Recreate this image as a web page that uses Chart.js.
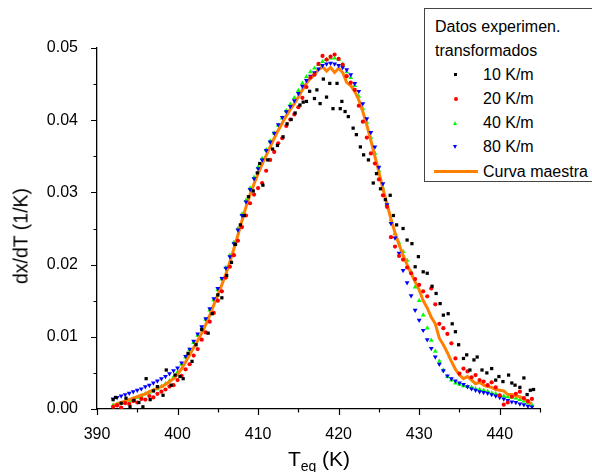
<!DOCTYPE html>
<html>
<head>
<meta charset="utf-8">
<script src="https://cdn.jsdelivr.net/npm/chart.js@4.4.1/dist/chart.umd.min.js"></script>
<style>
  html, body { margin: 0; padding: 0; background: #fff; overflow: hidden; }
  #wrap { position: relative; width: 592px; height: 472px; font-family: "Liberation Sans", Arial, sans-serif; color: #000; }
  #chart { position: absolute; left: 0; top: 0; }
  .ytitle { position: absolute; left: 21px; top: 236px; font-size: 19.5px; white-space: nowrap;
            transform: translate(-50%, -50%) rotate(-90deg); }
  .xtitle { position: absolute; left: 219px; width: 200px; top: 447px; text-align: center; font-size: 21px; white-space: nowrap; line-height: 24px; }
  .xtitle sub { font-size: 14px; vertical-align: -5px; }
  .legbox { position: absolute; left: 424px; top: 8px; width: 200px; height: 172px; border: 1.5px solid #444; background: #fff; }
  .legrow { position: absolute; font-size: 16px; line-height: 20px; white-space: nowrap; }
  .mk { position: absolute; }
</style>
</head>
<body>
<div id="wrap">
  <canvas id="chart" width="592" height="472"></canvas>
  <div class="ytitle">dx/dT (1/K)</div>
  <div class="xtitle">T<sub>eq</sub> (K)</div>
  <div class="legbox"></div>
  <div class="legrow" style="left:435px; top:17px;">Datos experimen.</div>
  <div class="legrow" style="left:435px; top:41px;">transformados</div>
  <div class="mk" style="left:454px; top:73px; width:3px; height:3px; background:#000;"></div>
  <div class="legrow" style="left:483px; top:65px;">10 K/m</div>
  <div class="mk" style="left:454px; top:97px; width:4px; height:4px; border-radius:2px; background:#ff0000;"></div>
  <div class="legrow" style="left:483px; top:89px;">20 K/m</div>
  <div class="mk" style="left:453px; top:121px; width:0; height:0; border-left:2.5px solid transparent; border-right:2.5px solid transparent; border-bottom:4px solid #00ff00;"></div>
  <div class="legrow" style="left:483px; top:113px;">40 K/m</div>
  <div class="mk" style="left:453px; top:145px; width:0; height:0; border-left:2.5px solid transparent; border-right:2.5px solid transparent; border-top:4px solid #0000ff;"></div>
  <div class="legrow" style="left:483px; top:137px;">80 K/m</div>
  <div class="mk" style="left:434px; top:170px; width:44px; height:3px; background:#ff8000;"></div>
  <div class="legrow" style="left:483px; top:162px;">Curva maestra</div>
</div>
<script>
// Shared temperature grid (K) for the 20, 40, 80 K/m sets and the master curve
const temps = [
  392.0, 392.5, 393.0, 393.5, 394.0, 394.5, 395.0, 395.5, 396.0, 396.5,
  397.0, 397.5, 398.0, 398.5, 399.0, 399.5, 400.0, 400.5, 401.0, 401.5,
  402.0, 402.5, 403.0, 403.5, 404.0, 404.5, 405.0, 405.5, 406.0, 406.5,
  407.0, 407.5, 408.0, 408.5, 409.0, 409.5, 410.0, 410.5, 411.0, 411.5,
  412.0, 412.5, 413.0, 413.5, 414.0, 414.5, 415.0, 415.5, 416.0, 416.5,
  417.0, 417.5, 418.0, 418.5, 419.0, 419.5, 420.0, 420.5, 421.0, 421.5,
  422.0, 422.5, 423.0, 423.5, 424.0, 424.5, 425.0, 425.5, 426.0, 426.5,
  427.0, 427.5, 428.0, 428.5, 429.0, 429.5, 430.0, 430.5, 431.0, 431.5,
  432.0, 432.5, 433.0, 433.5, 434.0, 434.5, 435.0, 435.5, 436.0, 436.5,
  437.0, 437.5, 438.0, 438.5, 439.0, 439.5, 440.0, 440.5, 441.0, 441.5,
  442.0, 442.5, 443.0, 443.5, 444.0
];

// 80 K/m
const rate80 = [
  0.0014, 0.0016, 0.0018, 0.0020, 0.0022, 0.0024, 0.0026, 0.0028, 0.0031, 0.0033,
  0.0036, 0.0039, 0.0042, 0.0045, 0.0049, 0.0053, 0.0057, 0.0064, 0.0073, 0.0083,
  0.0094, 0.0104, 0.0114, 0.0125, 0.0139, 0.0153, 0.0167, 0.0181, 0.0195, 0.0211,
  0.0229, 0.0248, 0.0268, 0.0287, 0.0304, 0.0319, 0.0333, 0.0345, 0.0358, 0.0370,
  0.0382, 0.0394, 0.0404, 0.0412, 0.0419, 0.0427, 0.0437, 0.0447, 0.0455, 0.0461,
  0.0466, 0.0471, 0.0476, 0.0478, 0.0479, 0.0478, 0.0476, 0.0473, 0.0470, 0.0463,
  0.0451, 0.0440, 0.0423, 0.0402, 0.0383, 0.0363, 0.0335, 0.0312, 0.0283, 0.0257,
  0.0237, 0.0216, 0.0192, 0.0175, 0.0157, 0.0137, 0.0123, 0.0109, 0.0096, 0.0084,
  0.0072, 0.0062, 0.0053, 0.0046, 0.0042, 0.0039, 0.0036, 0.0034, 0.0031, 0.0028,
  0.0026, 0.0024, 0.0023, 0.0022, 0.0020, 0.0018, 0.0016, 0.0014, 0.0012, 0.0010,
  0.0009, 0.0007, 0.0006, 0.0004, 0.0003
];

// 40 K/m
const rate40 = [
  0.0005, 0.0007, 0.0008, 0.0010, 0.0012, 0.0014, 0.0016, 0.0018, 0.0021, 0.0023,
  0.0026, 0.0028, 0.0031, 0.0035, 0.0039, 0.0044, 0.0051, 0.0062, 0.0072, 0.0082,
  0.0092, 0.0102, 0.0112, 0.0124, 0.0137, 0.0151, 0.0165, 0.0180, 0.0196, 0.0213,
  0.0231, 0.0250, 0.0270, 0.0289, 0.0306, 0.0321, 0.0335, 0.0347, 0.0359, 0.0371,
  0.0382, 0.0393, 0.0403, 0.0413, 0.0422, 0.0431, 0.0441, 0.0451, 0.0460, 0.0467,
  0.0472, 0.0477, 0.0481, 0.0484, 0.0486, 0.0486, 0.0484, 0.0477, 0.0467, 0.0459,
  0.0448, 0.0433, 0.0416, 0.0397, 0.0376, 0.0354, 0.0330, 0.0306, 0.0283, 0.0262,
  0.0243, 0.0230, 0.0218, 0.0206, 0.0190, 0.0169, 0.0150, 0.0130, 0.0112, 0.0095,
  0.0080, 0.0066, 0.0054, 0.0045, 0.0040, 0.0036, 0.0034, 0.0032, 0.0031, 0.0030,
  0.0028, 0.0027, 0.0026, 0.0024, 0.0022, 0.0021, 0.0019, 0.0018, 0.0017, 0.0016,
  0.0015, 0.0013, 0.0011, 0.0008, 0.0005
];

// 20 K/m
const rate20 = [
  0.0003, 0.0005, 0.0002, 0.0008, 0.0007, 0.0011, 0.0009, 0.0014, 0.0013, 0.0018,
  0.0016, 0.0021, 0.0024, 0.0027, 0.0031, 0.0033, 0.0040, 0.0046, 0.0055, 0.0062,
  0.0074, 0.0083, 0.0096, 0.0106, 0.0121, 0.0133, 0.0150, 0.0163, 0.0182, 0.0197,
  0.0213, 0.0233, 0.0252, 0.0268, 0.0285, 0.0297, 0.0306, 0.0313, 0.0330, 0.0345,
  0.0356, 0.0368, 0.0375, 0.0392, 0.0401, 0.0408, 0.0418, 0.0431, 0.0446, 0.0459,
  0.0463, 0.0478, 0.0489, 0.0484, 0.0488, 0.0491, 0.0485, 0.0477, 0.0461, 0.0452,
  0.0442, 0.0420, 0.0398, 0.0376, 0.0354, 0.0340, 0.0318, 0.0296, 0.0280, 0.0238,
  0.0225, 0.0212, 0.0207, 0.0196, 0.0188, 0.0180, 0.0172, 0.0163, 0.0156, 0.0167,
  0.0145, 0.0118, 0.0112, 0.0104, 0.0091, 0.0070, 0.0049, 0.0056, 0.0052, 0.0044,
  0.0047, 0.0040, 0.0038, 0.0033, 0.0037, 0.0030, 0.0019, 0.0006, 0.0009, 0.0017,
  0.0021, 0.0024, 0.0015, 0.0011, 0.0014
];

// Curva maestra
const master = [
  0.0005, 0.0007, 0.0009, 0.0011, 0.0013, 0.0015, 0.0017, 0.0019, 0.0021, 0.0024,
  0.0026, 0.0029, 0.0031, 0.0034, 0.0038, 0.0042, 0.0048, 0.0056, 0.0065, 0.0075,
  0.0085, 0.0095, 0.0105, 0.0117, 0.0130, 0.0144, 0.0158, 0.0172, 0.0187, 0.0204,
  0.0222, 0.0241, 0.0261, 0.0280, 0.0297, 0.0312, 0.0326, 0.0339, 0.0351, 0.0363,
  0.0375, 0.0386, 0.0396, 0.0406, 0.0415, 0.0423, 0.0432, 0.0442, 0.0451, 0.0458,
  0.0463, 0.0470, 0.0474, 0.0468, 0.0473, 0.0466, 0.0472, 0.0466, 0.0452, 0.0448,
  0.0440, 0.0428, 0.0412, 0.0393, 0.0372, 0.0350, 0.0328, 0.0305, 0.0284, 0.0263,
  0.0244, 0.0228, 0.0213, 0.0200, 0.0188, 0.0176, 0.0165, 0.0150, 0.0140, 0.0127,
  0.0118, 0.0098, 0.0089, 0.0078, 0.0066, 0.0055, 0.0047, 0.0042, 0.0045, 0.0040,
  0.0035, 0.0037, 0.0033, 0.0031, 0.0030, 0.0027, 0.0026, 0.0025, 0.0020, 0.0020,
  0.0018, 0.0017, 0.0014, 0.0010, 0.0007
];

// 10 K/m (own, sparser temperatures)
const temps10 = [
  392.0, 392.3, 393.0, 393.6, 394.1, 394.6, 395.2, 395.7, 396.1, 396.6,
  397.0, 397.5, 398.2, 398.6, 399.2, 399.7, 400.3, 400.7, 401.3, 401.8,
  402.3, 403.0, 403.8, 404.3, 405.0, 405.5, 406.1, 406.7, 407.2, 407.8,
  408.3, 408.8, 409.4, 409.9, 410.2, 410.6, 411.2, 411.8, 412.4, 413.1,
  413.6, 414.1, 414.6, 415.2, 415.6, 416.0, 416.4, 417.0, 417.3, 417.7,
  418.1, 418.5, 418.9, 419.3, 419.8, 420.2, 420.4, 420.8, 421.2, 421.8,
  422.2, 422.7, 423.1, 423.7, 424.3, 424.7, 425.2, 425.8, 426.4, 426.8,
  427.2, 428.0, 428.5, 429.1, 429.5, 429.9, 430.5, 431.0, 431.6, 432.1,
  432.6, 433.0, 433.6, 434.1, 434.5, 434.9, 435.5, 435.9, 436.3, 436.8,
  437.2, 437.8, 438.4, 439.0, 439.5, 439.9, 440.4, 441.1, 441.5, 441.9,
  442.5, 443.0, 443.4, 443.8, 444.2
];
const rate10 = [
  0.0013, 0.0016, 0.0008, 0.0015, 0.0003, 0.0012, 0.0009, 0.0003, 0.0042, 0.0013,
  0.0025, 0.0031, 0.0019, 0.0054, 0.0033, 0.0047, 0.0045, 0.0042, 0.0077, 0.0066,
  0.0089, 0.0110, 0.0105, 0.0132, 0.0158, 0.0154, 0.0185, 0.0203, 0.0228, 0.0255,
  0.0268, 0.0294, 0.0302, 0.0327, 0.0340, 0.0310, 0.0345, 0.0360, 0.0365, 0.0377,
  0.0395, 0.0401, 0.0410, 0.0421, 0.0425, 0.0426, 0.0440, 0.0430, 0.0442, 0.0423,
  0.0457, 0.0432, 0.0451, 0.0416, 0.0451, 0.0416, 0.0426, 0.0412, 0.0405, 0.0389,
  0.0380, 0.0363, 0.0352, 0.0345, 0.0313, 0.0326, 0.0305, 0.0290, 0.0296, 0.0268,
  0.0255, 0.0250, 0.0234, 0.0229, 0.0197, 0.0211, 0.0190, 0.0188, 0.0170, 0.0160,
  0.0146, 0.0130, 0.0132, 0.0118, 0.0107, 0.0089, 0.0070, 0.0075, 0.0054, 0.0068,
  0.0072, 0.0054, 0.0050, 0.0056, 0.0040, 0.0045, 0.0038, 0.0047, 0.0036, 0.0033,
  0.0030, 0.0043, 0.0020, 0.0026, 0.0027
];

function pairs(xs, ys) {
  return xs.map((x, i) => ({ x: x, y: ys[i] }));
}

// Draw tick marks outward: long at labelled values, short in between
const axisTicks = {
  id: 'axisTicks',
  afterDraw(chart) {
    const ctx = chart.ctx;
    const xs = chart.scales.x;
    const ys = chart.scales.y;
    ctx.save();
    ctx.strokeStyle = '#000';
    ctx.lineWidth = 1.2;
    ctx.beginPath();
    xs.ticks.forEach(t => {
      const px = Math.round(xs.getPixelForValue(t.value)) + 0.5;
      const len = (Math.round(t.value) % 10 === 0) ? 6 : 3.5;
      ctx.moveTo(px, xs.top);
      ctx.lineTo(px, xs.top + len);
    });
    ys.ticks.forEach(t => {
      const py = Math.round(ys.getPixelForValue(t.value)) + 0.5;
      const major = Math.abs(t.value * 100 - Math.round(t.value * 100)) < 1e-6;
      const len = major ? 6 : 3.5;
      ctx.moveTo(ys.right, py);
      ctx.lineTo(ys.right - len, py);
    });
    ctx.stroke();
    ctx.restore();
  }
};

Chart.defaults.font.family = '"Liberation Sans", Arial, sans-serif';
Chart.defaults.color = '#000';

new Chart(document.getElementById('chart'), {
  type: 'scatter',
  data: {
    datasets: [
      {
        label: '10 K/m',
        data: pairs(temps10, rate10),
        pointStyle: 'rect',
        pointRadius: 2.3,
        backgroundColor: '#000',
        borderWidth: 0,
        order: 1
      },
      {
        label: '20 K/m',
        data: pairs(temps, rate20),
        pointStyle: 'circle',
        pointRadius: 2.1,
        backgroundColor: '#ff0000',
        borderWidth: 0,
        order: 2
      },
      {
        label: '80 K/m',
        data: pairs(temps, rate80),
        pointStyle: 'triangle',
        rotation: 180,
        pointRadius: 2.8,
        backgroundColor: '#0000ff',
        borderWidth: 0,
        order: 3
      },
      {
        label: 'Curva maestra',
        data: pairs(temps, master),
        showLine: true,
        pointRadius: 0,
        borderColor: '#ff8000',
        borderWidth: 3,
        order: 4
      },
      {
        label: '40 K/m',
        data: pairs(temps, rate40),
        pointStyle: 'triangle',
        pointRadius: 2.8,
        backgroundColor: '#00ff00',
        borderWidth: 0,
        order: 5
      }
    ]
  },
  options: {
    responsive: false,
    animation: false,
    layout: { padding: { left: 0, top: 48, right: 52, bottom: 0 } },
    plugins: {
      legend: { display: false },
      tooltip: { enabled: false }
    },
    scales: {
      x: {
        type: 'linear',
        min: 390,
        max: 445,
        grid: { display: false },
        border: { display: true, color: '#000', width: 1.3 },
        ticks: {
          stepSize: 5,
          autoSkip: false,
          maxRotation: 0,
          padding: 8,
          font: { size: 16 },
          callback: v => (Math.round(v) % 10 === 0 ? String(v) : '')
        },
        afterFit: s => { s.height = 63; }
      },
      y: {
        type: 'linear',
        min: 0,
        max: 0.05,
        grid: { display: false },
        border: { display: true, color: '#000', width: 1.3 },
        ticks: {
          stepSize: 0.005,
          autoSkip: false,
          padding: 11,
          font: { size: 16 },
          callback: v => (Math.abs(v * 100 - Math.round(v * 100)) < 1e-6 ? v.toFixed(2) : '')
        },
        afterFit: s => { s.width = 97; }
      }
    }
  },
  plugins: [axisTicks]
});
</script>
</body>
</html>
